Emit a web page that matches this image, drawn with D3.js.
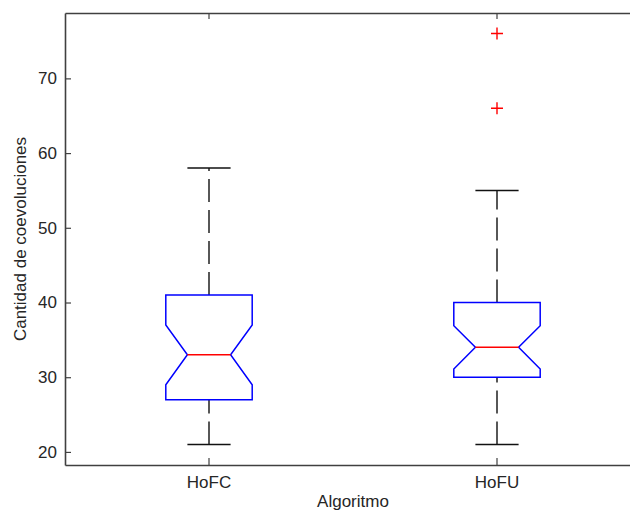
<!DOCTYPE html>
<html>
<head>
<meta charset="utf-8">
<script src="https://cdn.jsdelivr.net/npm/d3@7"></script>
<style>
  body { margin: 0; background: #fff; overflow: hidden; }
  svg { display: block; font-family: "Liberation Sans", Arial, sans-serif; }
</style>
</head>
<body>
<svg id="chart"></svg>
<script>
// values
const categories = ['HoFC', 'HoFU'];
const lowerWhisker = [21, 21];
const q1 = [27, 30];
const medians = [33, 34];
const q3 = [41, 40];
const upperWhisker = [58, 55];
const notchLow = [29, 31.1];
const notchHigh = [37, 36.9];
const outliers = [[], [66, 76]];
const yTicks = [20, 30, 40, 50, 60, 70];

const width = 630;
const height = 513;
const margin = { top: 13, right: -11, bottom: 48, left: 65 };
const fontSize = 17;

const svg = d3.select('#chart')
  .attr('width', width)
  .attr('height', height);

const x = d3.scaleBand()
  .domain(categories)
  .range([margin.left, width - margin.right])
  .padding(0);

const y = d3.scaleLinear()
  .domain([18.25, 78.75])
  .range([height - margin.bottom, margin.top]);

const boxW = x.bandwidth() * 0.3;
const capW = boxW / 2;

const stats = categories.map((c, i) => ({
  name: c,
  lo: lowerWhisker[i], q1: q1[i], med: medians[i], q3: q3[i], hi: upperWhisker[i],
  nlo: notchLow[i], nhi: notchHigh[i], out: outliers[i]
}));

// axes (box on, ticks pointing inward)
const axisColor = '#404040';
const textColor = '#262626';

const axLeft = svg.append('g')
  .attr('transform', `translate(${margin.left},0)`)
  .call(d3.axisLeft(y).tickValues(yTicks).tickSizeInner(-6).tickSizeOuter(0).tickPadding(8));
const axRight = svg.append('g')
  .attr('transform', `translate(${width - margin.right},0)`)
  .call(d3.axisRight(y).tickValues(yTicks).tickSizeInner(-6).tickSizeOuter(0).tickFormat(''));
const axBottom = svg.append('g')
  .attr('transform', `translate(0,${height - margin.bottom})`)
  .call(d3.axisBottom(x).tickSizeInner(-7).tickSizeOuter(0).tickPadding(11));
const axTop = svg.append('g')
  .attr('transform', `translate(0,${margin.top})`)
  .call(d3.axisTop(x).tickSizeInner(-6).tickSizeOuter(0).tickFormat(''));

[axLeft, axRight, axBottom, axTop].forEach((g) => {
  g.selectAll('path').attr('stroke', axisColor).attr('stroke-width', 1.6);
  g.selectAll('line').attr('stroke', axisColor).attr('stroke-width', 1.2);
  g.selectAll('text').attr('fill', textColor).attr('font-size', fontSize);
});

// whiskers, dashed, drawn outward like matlab does
const box = svg.append('g')
  .selectAll('g')
  .data(stats)
  .enter()
  .append('g')
    .attr('transform', (d) => `translate(${x(d.name) + x.bandwidth() / 2},0)`);

box.append('line')
  .attr('x1', 0).attr('x2', 0)
  .attr('y1', (d) => y(d.q3)).attr('y2', (d) => y(d.hi))
  .attr('stroke', '#111').attr('stroke-width', 1.4)
  .attr('stroke-dasharray', '23,8');

box.append('line')
  .attr('x1', 0).attr('x2', 0)
  .attr('y1', (d) => y(d.lo)).attr('y2', (d) => y(d.q1))
  .attr('stroke', '#111').attr('stroke-width', 1.4)
  .attr('stroke-dasharray', '23,8');

// caps
box.selectAll('.cap')
  .data((d) => [d.lo, d.hi])
  .enter()
  .append('line')
    .attr('class', 'cap')
    .attr('x1', -capW / 2).attr('x2', capW / 2)
    .attr('y1', (v) => y(v)).attr('y2', (v) => y(v))
    .attr('stroke', '#111').attr('stroke-width', 1.4);

// notched box outline
box.append('path')
  .attr('fill', 'none')
  .attr('stroke', '#0000ff')
  .attr('stroke-width', 1.5)
  .attr('d', (d) => {
    const h = boxW / 2, n = boxW / 4;
    return d3.line()([
      [-h, y(d.q1)], [-h, y(d.nlo)], [-n, y(d.med)], [-h, y(d.nhi)], [-h, y(d.q3)],
      [h, y(d.q3)], [h, y(d.nhi)], [n, y(d.med)], [h, y(d.nlo)], [h, y(d.q1)]
    ]) + 'Z';
  });

// median
box.append('line')
  .attr('x1', -boxW / 4).attr('x2', boxW / 4)
  .attr('y1', (d) => y(d.med)).attr('y2', (d) => y(d.med))
  .attr('stroke', '#ff0000').attr('stroke-width', 1.5);

// outliers as red plus signs
box.selectAll('.outlier')
  .data((d) => d.out)
  .enter()
  .append('path')
    .attr('class', 'outlier')
    .attr('d', (v) => `M-6,${y(v)}H6M0,${y(v) - 6}V${y(v) + 6}`)
    .attr('stroke', '#ff0000')
    .attr('stroke-width', 1.4);

// labels
svg.append('text')
  .attr('x', (margin.left + width - margin.right) / 2)
  .attr('y', 507)
  .attr('text-anchor', 'middle')
  .attr('font-size', fontSize)
  .attr('fill', textColor)
  .text('Algoritmo');

svg.append('text')
  .attr('transform', `translate(26,${(margin.top + height - margin.bottom) / 2}) rotate(-90)`)
  .attr('text-anchor', 'middle')
  .attr('font-size', fontSize)
  .attr('fill', textColor)
  .text('Cantidad de coevoluciones');
</script>
</body>
</html>
